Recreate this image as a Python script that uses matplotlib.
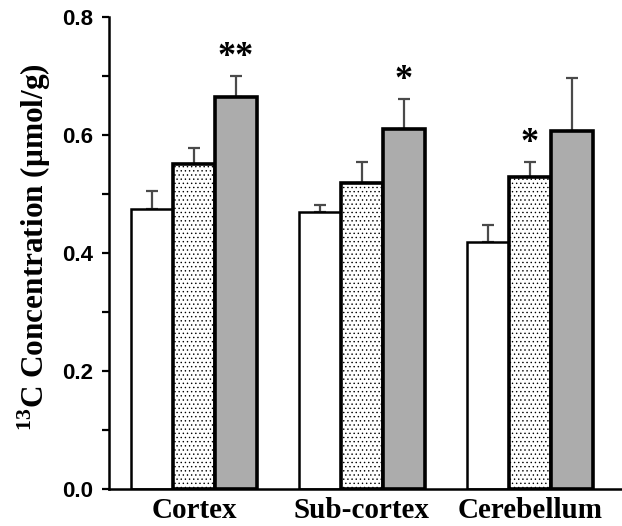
import matplotlib
matplotlib.use('Agg')
import matplotlib.pyplot as plt
import numpy as np

# data
regions = ['Cortex', 'Sub-cortex', 'Cerebellum']
white_vals = [0.475, 0.469, 0.419]
white_err = [0.030, 0.012, 0.029]
dot_vals = [0.551, 0.519, 0.529]
dot_err = [0.027, 0.035, 0.025]
gray_vals = [0.664, 0.611, 0.607]
gray_err = [0.036, 0.050, 0.090]
stars_dot = ['', '', '*']
stars_gray = ['**', '*', '']

plt.rcParams['hatch.color'] = '#8a8a8a'
plt.rcParams['hatch.linewidth'] = 0.5
plt.rcParams['mathtext.fontset'] = 'custom'
plt.rcParams['mathtext.rm'] = 'Liberation Serif:bold'
plt.rcParams['mathtext.bf'] = 'Liberation Serif:bold'

fig = plt.figure(figsize=(6.22, 5.26), dpi=100)
ax = fig.add_axes([0.175, 0.0703, 0.825, 0.8974])

x = np.arange(len(regions))
w = 0.25

def draw(pos, vals, err, color, lw, hatch=None):
    ax.bar(pos, vals, width=w, color=color, edgecolor='black', linewidth=lw,
           hatch=hatch, zorder=2)
    ax.errorbar(pos, vals, yerr=[np.zeros(len(err)), err], fmt='none',
                ecolor='#4a4a4a', elinewidth=1.6, capsize=4, capthick=1.6, zorder=1)

draw(x - w, white_vals, white_err, 'white', 1.8)
draw(x, dot_vals, dot_err, 'white', 2.6, hatch='....')
draw(x + w, gray_vals, gray_err, '#acacac', 2.6)

# significance marks
for i in range(len(regions)):
    if stars_dot[i]:
        ax.text(x[i], dot_vals[i] + dot_err[i] + 0.004, stars_dot[i], ha='center', va='bottom',
                fontsize=26, fontweight='bold', family='Liberation Serif')
    if stars_gray[i]:
        ax.text(x[i] + w, gray_vals[i] + gray_err[i] + 0.004, stars_gray[i], ha='center', va='bottom',
                fontsize=26, fontweight='bold', family='Liberation Serif')

ax.set_ylim(0, 0.8)
ax.set_xlim(-0.507, 2.55)
ax.set_yticks([0.0, 0.2, 0.4, 0.6, 0.8])
ax.set_yticks([0.1, 0.3, 0.5, 0.7], minor=True)
ax.set_yticklabels(['0.0', '0.2', '0.4', '0.6', '0.8'], fontsize=16, fontweight='bold',
                   family='Liberation Sans')
ax.tick_params(axis='y', which='both', direction='out', length=5, width=1.6, pad=6)
ax.set_xticks(x)
ax.set_xticklabels(regions, fontsize=21, fontweight='bold', family='Liberation Serif')
ax.tick_params(axis='x', length=0, pad=6)

for s in ['top', 'right']:
    ax.spines[s].set_visible(False)
ax.spines['left'].set_linewidth(1.8)
ax.spines['bottom'].set_linewidth(1.8)

fig.text(0.055, 0.53, r'$^{13}$C Concentration (μmol/g)', rotation=90,
         ha='center', va='center', fontsize=22.5, fontweight='bold', family='Liberation Serif')

plt.savefig('out.png', dpi=100)
